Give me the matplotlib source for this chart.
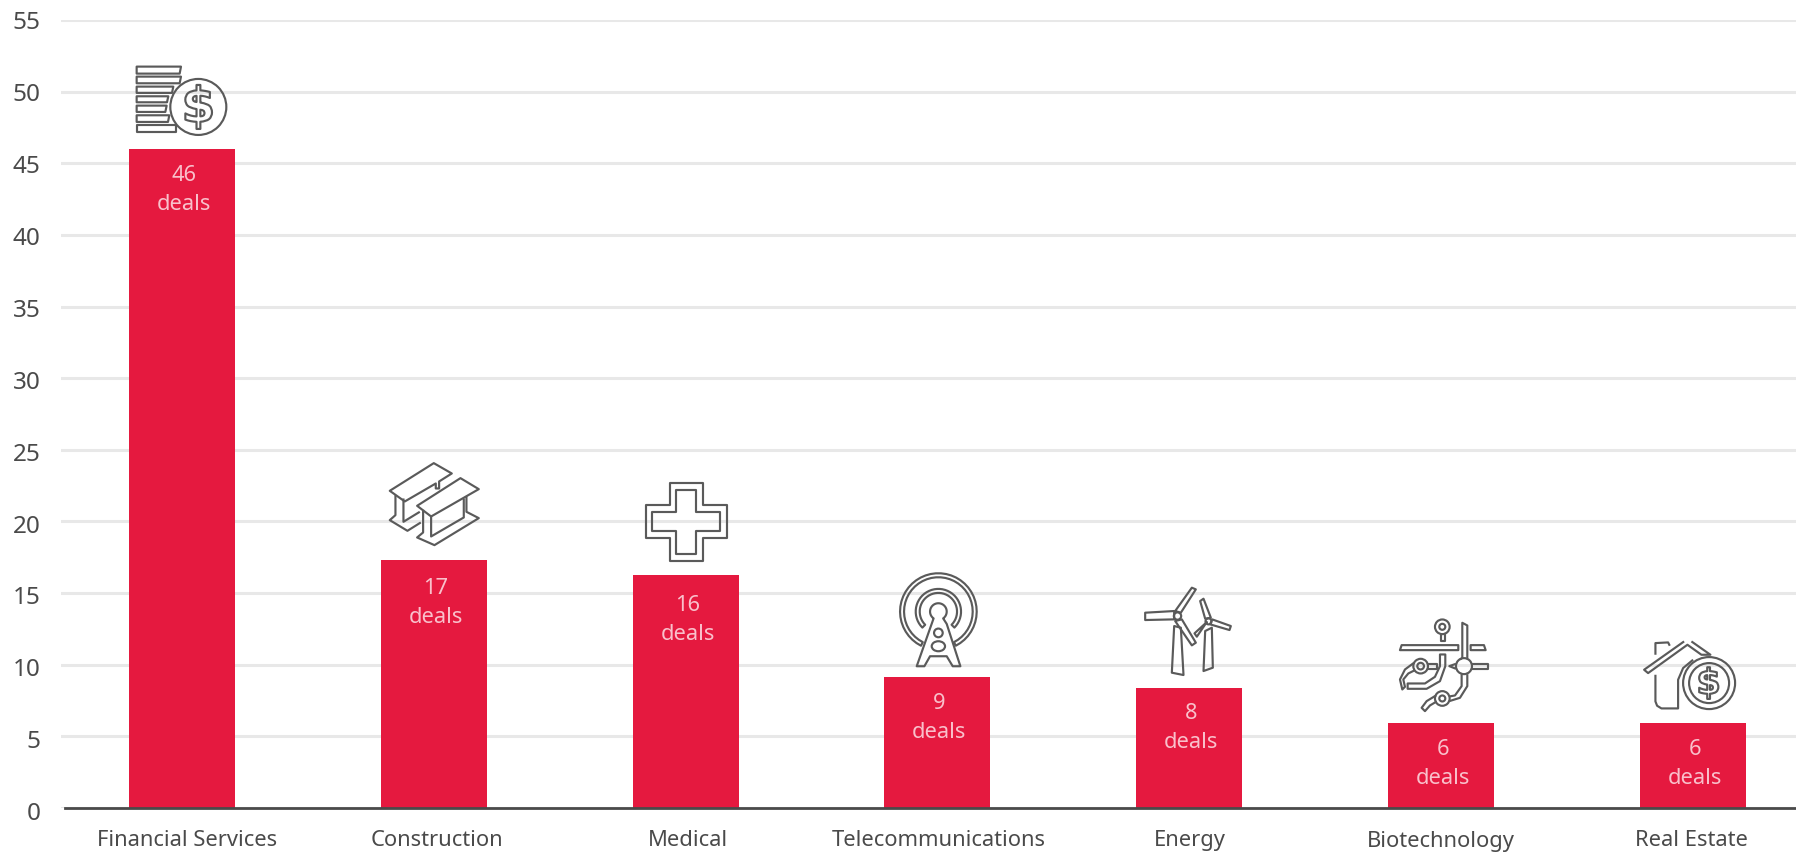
import numpy as np
import matplotlib
matplotlib.use("Agg")
import matplotlib.pyplot as plt
from matplotlib.patches import Ellipse, Polygon, PathPatch
from matplotlib.textpath import TextPath
from matplotlib.font_manager import FontProperties
from matplotlib.transforms import Affine2D, ScaledTranslation

categories = ["Financial Services", "Construction", "Medical", "Telecommunications",
              "Energy", "Biotechnology", "Real Estate"]
values = [46.0, 17.3, 16.25, 9.15, 8.35, 5.9, 5.95]
deal_labels = ["46", "17", "16", "9", "8", "6", "6"]
yticks = list(range(0, 60, 5))
label_shift = [(5, 0), (3, 0), (2, 0), (1, 0), (1, 0), (0, 1), (-1, 0)]
deal_offset = [27, 28, 30, 27, 25, 26, 27]

RED = "#e5193f"
INK = "#5a5a5a"
TXT = "#4a4a4a"
W, H = 1796, 856
plt.rcParams["font.family"] = ["Noto Sans", "DejaVu Sans"]

fig = plt.figure(figsize=(W / 100, H / 100), dpi=100, facecolor="white")
ax = fig.add_axes([61 / W, (H - 808) / H, (W - 61) / W, 788 / H])
x = np.arange(len(categories))
ax.set_xlim(-0.4805, 6.41)
ax.set_ylim(0, 55)
ax.bar(x, values, width=0.421, color=RED, zorder=3)
ax.set_yticks(yticks)
ax.set_xticks(x, categories)
ax.grid(axis="y", color="#e8e8e8", lw=2.2, zorder=0)
ax.grid(axis="x", visible=False)
ax.set_axisbelow(True)
for s in ("top", "right", "left"):
    ax.spines[s].set_visible(False)
ax.spines["bottom"].set_color("#4a4a4a")
ax.spines["bottom"].set_linewidth(2.0)
ax.spines["bottom"].set_zorder(4)
ax.spines["bottom"].set_bounds(-0.4646, 6.41)
ax.tick_params(axis="y", length=0, pad=14.5, labelsize=17.5, labelcolor=TXT)
ax.tick_params(axis="x", length=0, pad=15.5, labelsize=15.8, labelcolor=TXT)
for lab, (dx, dy) in zip(ax.get_xticklabels(), label_shift):
    lab.set_transform(lab.get_transform() + ScaledTranslation(dx / 100, -dy / 100, fig.dpi_scale_trans))
for lab, t in zip(ax.get_yticklabels(), yticks):
    lab.set_transform(lab.get_transform() + ScaledTranslation(0, -(55 - t) * 0.06 / 100, fig.dpi_scale_trans))

for i, (v, t, o) in enumerate(zip(values, deal_labels, deal_offset)):
    for txt, off in ((t, o), ("deals", o + 29)):
        ax.annotate(txt, (i, v), xytext=(1.4, -off * 0.72), textcoords="offset points",
                    ha="center", va="center", color="#f9c0cb", fontsize=15.7,
                    fontweight=300, zorder=5)


def icon_tr(i, dx, dy):
    return (Affine2D().translate(3 * dx, 3 * dy).scale(1 / 3, -1 / 3)
            + ScaledTranslation(i, values[i], ax.transData))


LW = 1.55
kw = dict(fill=False, edgecolor=INK, lw=LW, zorder=6, joinstyle="round", clip_on=False)


def poly(T, pts, closed=True):
    ax.add_patch(Polygon(pts, closed=closed, transform=T, **kw))


def circ(T, c, r, ry=None):
    ax.add_patch(Ellipse(c, 2 * r, 2 * (ry or r), transform=T, **kw))


def arc(c, r, a0, a1, n=40):
    a = np.radians(np.linspace(a0, a1, n))
    return np.c_[c[0] + r * np.cos(a), c[1] + r * np.sin(a)]


def dollar(T, c, h, weight="bold"):
    tp = TextPath((0, 0), "$", size=100, prop=FontProperties(family="DejaVu Sans", weight=weight))
    bb = tp.get_extents()
    s = h / bb.height
    m = (Affine2D().translate(-(bb.x0 + bb.x1) / 2, -(bb.y0 + bb.y1) / 2).scale(s, -s)
         .translate(*c))
    ax.add_patch(PathPatch(m.transform_path(tp), transform=T, **kw))


# Financial services: coin stack
T = icon_tr(0, -182, -149)
rows = [(200, 221, 543), (230, 250, 543), (260, 279, 520), (289, 307, 505),
        (317, 336, 500), (346, 366, 508), (374, 395, 528)]
for top, bot, r in rows:
    poly(T, [(410, top), (r, top), (r - 4, bot) if r != 528 else (r, bot), (410, bot)])
circ(T, (595, 321), 84)
dollar(T, (596, 321), 132)

# Construction: girders
T = icon_tr(1, -74, -121)
poly(T, [(90, 155), (222, 72), (276, 103), (238, 127), (238, 148), (228, 148),
         (228, 133), (135, 187)])
poly(T, [(107, 168), (107, 228), (90, 243), (143, 275), (183, 250)], closed=False)
poly(T, [(131, 178), (131, 248), (180, 218)], closed=False)
poly(T, [(172, 200), (302, 117), (357, 150), (214, 232)])
poly(T, [(190, 212), (190, 280), (172, 295), (224, 318), (357, 237), (320, 218), (320, 172)], closed=False)
poly(T, [(214, 232), (214, 292), (312, 235), (312, 178)], closed=False)

# Medical: double cross
T = icon_tr(2, -326, -136)
for a, b, c, d, e, f, g, h in [(858, 930, 1030, 1102, 132, 198, 296, 364),
                               (878, 950, 1010, 1082, 152, 218, 276, 344)]:
    poly(T, [(b, e), (c, e), (c, f), (d, f), (d, g), (c, g), (c, h), (b, h), (b, g), (a, g), (a, f), (b, f)])

# Telecommunications: tower
T = icon_tr(3, -78, -118)
c = (237, 158)
for r0, r1, a0, a1 in [(103, 115, 117, 423), (56, 68, 135, 405)]:
    poly(T, np.r_[arc(c, r1, a0, a1), arc(c, r0, a1, a0)])
poly(T, np.r_[arc(c, 25, 125, 415),
              [(262, 195), (303, 322), (280, 322), (262, 292), (212, 292), (195, 322), (172, 322)]])
circ(T, (237, 222), 13)
circ(T, (237, 262), 20, 15)

# Energy: wind turbines
T = icon_tr(4, -329, -129)
for pts in [[(855, 160), (942, 155), (942, 180), (855, 182)],
            [(945, 155), (995, 85), (1007, 90), (962, 160)],
            [(965, 180), (1007, 250), (995, 258), (945, 185)],
            [(942, 200), (962, 205), (970, 347), (935, 340)],
            [(1035, 178), (1020, 125), (1030, 118), (1052, 175)],
            [(1056, 180), (1112, 200), (1108, 212), (1050, 195)],
            [(1035, 195), (1010, 232), (1003, 222), (1040, 188)],
            [(1035, 215), (1055, 205), (1058, 325), (1030, 335)]]:
    poly(T, pts)
circ(T, (952, 170), 11)
circ(T, (1045, 186), 9)

# Biotechnology: pathway
T = icon_tr(5, -101, -124)
circ(T, (307, 82), 22)
circ(T, (307, 82), 9)
poly(T, [(302, 104), (302, 125), (314, 125), (314, 104)], closed=False)
poly(T, [(180, 152), (185, 137), (355, 137), (355, 152)])
poly(T, [(392, 137), (432, 137), (437, 152), (392, 152)])
poly(T, [(360, 180), (367, 175), (367, 70), (382, 78), (382, 177)], closed=False)
circ(T, (372, 200), 24)
poly(T, [(395, 193), (445, 193), (445, 208), (395, 208)], closed=False)
poly(T, [(348, 193), (328, 200), (348, 208)], closed=False)
circ(T, (242, 200), 22)
circ(T, (242, 200), 10)
poly(T, [(264, 193), (290, 193), (290, 208), (264, 208)], closed=False)
poly(T, [(222, 190), (195, 210), (180, 240), (187, 270), (195, 262), (190, 240), (205, 222), (225, 212)], closed=False)
poly(T, [(300, 165), (316, 165), (316, 200), (300, 245), (260, 268), (203, 268),
         (203, 252), (255, 252), (285, 232), (300, 200)])
poly(T, [(365, 224), (365, 260), (345, 288), (328, 291)], closed=False)
poly(T, [(382, 224), (382, 260), (360, 295), (328, 305)], closed=False)
circ(T, (307, 297), 22)
circ(T, (307, 297), 9)
poly(T, [(288, 288), (260, 305), (245, 325), (255, 335), (270, 318), (290, 306)], closed=False)

# Real estate: house and coin
T = icon_tr(6, -353, -123)
poly(T, [(1055, 125), (1112, 165), (1085, 165), (1043, 135), (925, 220), (913, 210), (1033, 125)], closed=False)
poly(T, [(947, 165), (947, 130), (985, 128), (990, 138)], closed=False)
poly(T, [(947, 225), (947, 305), (952, 318), (965, 326), (1015, 326), (1015, 240), (1030, 205), (1060, 180)], closed=False)
circ(T, (1108, 250), 78)
circ(T, (1108, 250), 60)
dollar(T, (1107, 250), 95)

fig.savefig("out.png", dpi=100, facecolor="white")
